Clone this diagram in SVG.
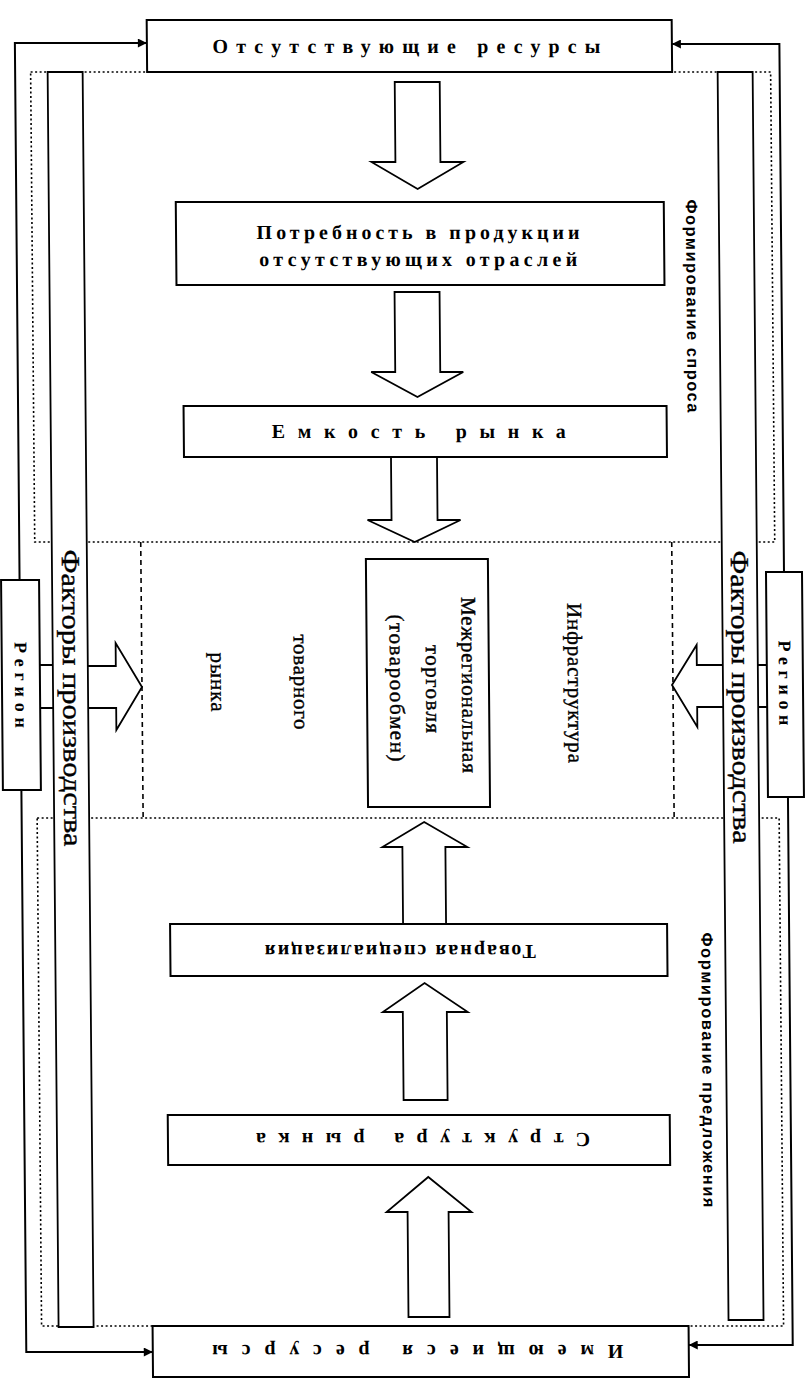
<svg xmlns="http://www.w3.org/2000/svg" width="807" height="1384" viewBox="0 0 807 1384">
<style>
.box{fill:#fff;stroke:#000;stroke-width:2}
.col{fill:#fff;stroke:#000;stroke-width:1.8}
.dot{fill:none;stroke:#000;stroke-width:1.6;stroke-dasharray:2 2.5}
.dash{fill:none;stroke:#000;stroke-width:1.6;stroke-dasharray:5 4}
.conn{fill:none;stroke:#000;stroke-width:2}
.ba{fill:#fff;stroke:#000;stroke-width:1.8;stroke-linejoin:miter}
.t{font-family:"Liberation Serif","Times New Roman",serif;fill:#000;stroke:#000;stroke-width:0.4}
.b{font-family:"Liberation Serif","Times New Roman",serif;font-weight:bold;fill:#000}
.s{font-family:"Liberation Sans",Arial,sans-serif;font-weight:bold;fill:#000}
</style>
<defs>
<marker id="ah" viewBox="0 0 10 10" refX="10" refY="5" markerWidth="11" markerHeight="9" markerUnits="userSpaceOnUse" orient="auto"><path d="M0,0 L10,5 L0,10 z" fill="#000"/></marker>
</defs>
<rect width="807" height="1384" fill="#fff"/>
<g transform="skewX(0.5)">
<g id="zones">
<rect class="dot" x="30" y="72" width="740" height="470"/>
<rect class="dot" x="30" y="818" width="742" height="508"/>
<line class="dash" x1="136" y1="542" x2="136" y2="818"/>
<line class="dash" x1="667" y1="542" x2="667" y2="818"/>
</g>
<g id="connectors">
<path class="conn" d="M14.5,580 V43 H146.5" marker-end="url(#ah)"/>
<path class="conn" d="M14.5,790 V1352 H141" marker-end="url(#ah)"/>
<path class="conn" d="M779,572 V44 H671.5" marker-end="url(#ah)"/>
<path class="conn" d="M781,797 V1345 H677" marker-end="url(#ah)"/>
<path class="conn" d="M34,665 H47 M34,708 H47 M752,665 H761 M752,707 H761"/>
<path class="ba" d="M394,82 H439 V162 H462 L416,189 L370,162 H394 Z"/>
<path class="ba" d="M392,292 H437 V372 H460 L414,397 L368,372 H392 Z"/>
<path class="ba" d="M387,457 V520 H363 L410,542 L456,520 H433 V457"/>
<path class="ba" d="M395,924 V847 H375 L417,822 L460,847 H438 V924"/>
<path class="ba" d="M394,1100 V1012 H374 L416,983 L459,1012 H438 V1100 Z"/>
<path class="ba" d="M397,1317 V1212 H376 L418,1177 L461,1212 H438 V1317 Z"/>
<path class="ba" d="M82,666 H110 V643 L136,687 L110,730 V708 H82"/>
<path class="ba" d="M717,665 H691 V645 L666,685 L691,727 V707 H717"/>
</g>
<g id="factors-left">
<rect class="col" x="47" y="72" width="35" height="1255"/>
<text class="t" font-size="26" text-anchor="middle" x="57" y="698" textLength="297" lengthAdjust="spacingAndGlyphs" transform="rotate(90 57 698)">Факторы производства</text>
</g>
<g id="factors-right">
<rect class="col" x="717" y="72" width="35" height="1248"/>
<text class="t" font-size="26" text-anchor="middle" x="726" y="697" textLength="293" lengthAdjust="spacingAndGlyphs" transform="rotate(90 726 697)">Факторы производства</text>
</g>
<g id="region-left">
<rect class="box" x="-4" y="580" width="38" height="210"/>
<text class="b" font-size="18" text-anchor="middle" x="9" y="685" textLength="86" transform="rotate(90 9 685)">Регион</text>
</g>
<g id="region-right">
<rect class="box" x="761" y="572" width="36" height="225"/>
<text class="b" font-size="18" text-anchor="middle" x="773" y="683" textLength="85" transform="rotate(90 773 683)">Регион</text>
</g>
<g id="missing-resources">
<rect class="box" x="146.5" y="20" width="525" height="52"/>
<text class="b" font-size="20" text-anchor="middle" x="406" y="53" textLength="388">Отсутствующие ресурсы</text>
</g>
<g id="demand">
<rect class="box" x="174" y="202" width="488" height="83"/>
<text class="b" font-size="20" text-anchor="middle" x="416" y="239" textLength="323">Потребность в продукции</text>
<text class="b" font-size="20" text-anchor="middle" x="416" y="266" textLength="318">отсутствующих отраслей</text>
</g>
<g id="capacity">
<rect class="box" x="180" y="406" width="483" height="51"/>
<text class="b" font-size="20" text-anchor="middle" x="415" y="438" textLength="294">Емкость рынка</text>
</g>
<g id="infrastructure">
<text class="t" font-size="21" text-anchor="middle" x="562" y="683" textLength="160" transform="rotate(90 562 683)">Инфраструктура</text>
<text class="t" font-size="21" text-anchor="middle" x="288" y="682" textLength="95" transform="rotate(90 288 682)">товарного</text>
<text class="t" font-size="21" text-anchor="middle" x="205" y="682" textLength="59" transform="rotate(90 205 682)">рынка</text>
</g>
<g id="trade">
<rect class="box" x="361" y="559" width="122" height="248"/>
<text class="t" font-size="21" text-anchor="middle" x="456" y="685" textLength="176" transform="rotate(90 456 685)">Межрегиональная</text>
<text class="t" font-size="21" text-anchor="middle" x="420" y="689" textLength="88" transform="rotate(90 420 689)">торговля</text>
<text class="t" font-size="21" text-anchor="middle" x="384" y="688" textLength="147" transform="rotate(90 384 688)">(товарообмен)</text>
</g>
<g id="specialization">
<rect class="box" x="162" y="924" width="497" height="52"/>
<text class="b" font-size="20" text-anchor="middle" x="392" y="959" textLength="271" transform="rotate(180 392 952)">Товарная специализация</text>
</g>
<g id="structure">
<rect class="box" x="158" y="1115" width="502" height="50"/>
<text class="b" font-size="20" text-anchor="middle" x="413" y="1147" textLength="334" transform="rotate(180 413 1140)">Структура рынка</text>
</g>
<g id="existing-resources">
<rect class="box" x="141" y="1326" width="536" height="51"/>
<text class="b" font-size="20" text-anchor="middle" x="406" y="1359" textLength="411" transform="rotate(180 406 1352)">Имеющиеся ресурсы</text>
</g>
<g id="labels">
<text class="s" font-size="16.5" text-anchor="middle" x="684" y="306" textLength="213" transform="rotate(90 684 306)">Формирование спроса</text>
<text class="s" font-size="16.5" text-anchor="middle" x="693" y="1070" textLength="275" transform="rotate(90 693 1070)">Формирование предложения</text>
</g>
</g>
</svg>
